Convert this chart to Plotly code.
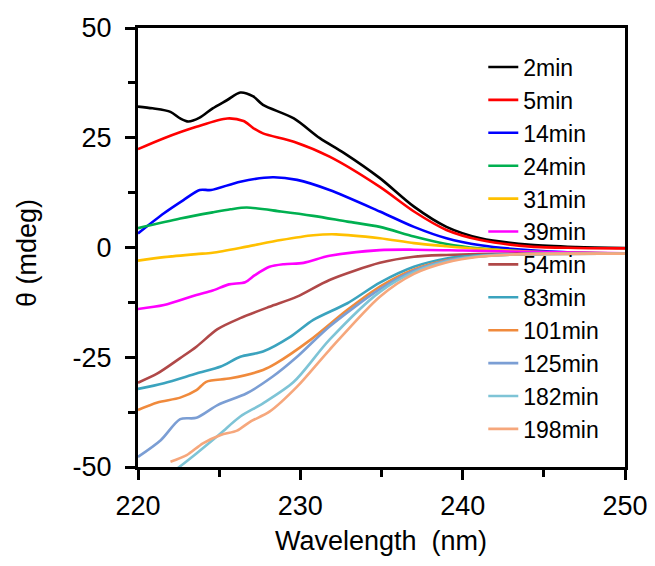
import plotly.graph_objects as go

series_names = ["2min", "5min", "14min", "24min", "31min", "39min", "54min",
                "83min", "101min", "125min", "182min", "198min"]
series_colors = ["#000000", "#FF0000", "#0000FF", "#00B050", "#FFC000", "#FF00FF",
                 "#B04848", "#3BA3BE", "#F08A3C", "#7B9ED4", "#7EC4D6", "#F6A77C"]

wl_2 = [220, 220.9, 222, 222.6, 223.1, 223.8, 224.6, 225.5, 226.3, 227.1, 227.7, 229.6, 231.2, 232.7, 234.9, 237, 239, 241.1, 244.2, 247, 250]
th_2 = [32.1, 31.7, 30.9, 29.4, 28.7, 29.6, 31.7, 33.6, 35.3, 34.4, 32.5, 29.4, 24.9, 21.5, 15.8, 9.3, 4.7, 2.1, 0.6, 0.1, -0.1]

wl_5 = [220, 221.6, 223.6, 225.5, 226.5, 227.1, 227.7, 229.6, 231.8, 234.9, 237, 239, 241.1, 244.2, 247, 250]
th_5 = [22.4, 24.9, 27.5, 29.4, 28.8, 27.2, 26.0, 24.1, 20.7, 13.8, 8.2, 4.0, 1.7, 0.2, -0.1, -0.2]

wl_14 = [220, 221.6, 222.8, 223.8, 224.5, 226.3, 228.3, 229.8, 231.8, 234.9, 237, 239, 241.1, 244, 247, 250]
th_14 = [3.2, 7.8, 10.8, 13.1, 13.1, 15.0, 16.0, 15.4, 13.1, 8.2, 4.7, 2.1, 0.5, -0.6, -1.2, -1.4]

wl_24 = [220, 222.6, 224.6, 225.7, 226.7, 228.8, 230.8, 232.9, 234.9, 237, 239, 241, 244, 247, 250]
th_24 = [4.4, 6.6, 8.0, 8.7, 9.1, 8.2, 7.2, 5.9, 4.7, 2.5, 0.8, -0.2, -0.9, -1.2, -1.4]

wl_31 = [220, 221.6, 223.6, 224.6, 226.7, 228.8, 230.8, 232.2, 234.9, 237, 239, 241, 244, 247, 250]
th_31 = [-3.0, -2.2, -1.5, -1.2, 0.2, 1.7, 2.8, 3.0, 2.1, 1.0, 0.3, -0.3, -0.9, -1.2, -1.4]

wl_39 = [220, 221.6, 223.6, 224.6, 225.6, 226.6, 227.2, 228.1, 229.0, 230.2, 231.8, 234.9, 237, 240, 244, 250]
th_39 = [-14.0, -13.1, -10.8, -9.8, -8.4, -7.9, -6.3, -4.4, -3.8, -3.5, -1.9, -0.6, -0.5, -0.7, -1.0, -1.3]

wl_54 = [220, 221.2, 222.6, 223.6, 224.9, 226.3, 228.1, 229.8, 231.8, 234.9, 237, 239, 241, 244, 250]
th_54 = [-30.8, -28.7, -25.2, -22.6, -18.6, -16.1, -13.5, -11.2, -7.4, -3.5, -2.1, -1.7, -1.5, -1.4, -1.4]

wl_83 = [220, 221.6, 223.6, 225.1, 226.3, 227.7, 229.4, 230.8, 232.9, 234.9, 237, 239, 241, 244, 247, 250]
th_83 = [-32.2, -30.9, -28.7, -27.1, -24.9, -23.7, -20.3, -16.5, -12.7, -8.0, -4.4, -2.5, -1.8, -1.5, -1.4, -1.4]

wl_101 = [220, 221.2, 222.6, 223.6, 224.2, 225.7, 227.7, 228.5, 230.6, 232.9, 234.9, 237, 239, 241, 244, 250]
th_101 = [-37.0, -35.3, -34.2, -32.5, -30.6, -29.8, -27.9, -26.4, -21.1, -14.2, -8.9, -5.0, -2.9, -2.0, -1.5, -1.4]

wl_125 = [220, 221.4, 222.6, 223.6, 224.9, 226.7, 228.3, 229.8, 231.8, 234.9, 237, 239, 241, 244, 250]
th_125 = [-47.7, -43.9, -39.1, -38.8, -35.9, -33.2, -29.4, -24.9, -18.0, -9.5, -5.3, -3.0, -2.0, -1.5, -1.4]

wl_182 = [222.3, 223.6, 225.1, 226.3, 227.7, 229.6, 231.8, 234.9, 237, 239, 241, 244, 250]
th_182 = [-50.7, -46.9, -42.3, -38.5, -35.5, -30.6, -21.0, -10.1, -5.6, -3.2, -2.0, -1.5, -1.4]

wl_198 = [222.0, 223.0, 224.0, 225.1, 226.1, 226.9, 228.1, 229.8, 231.8, 234.9, 237, 239, 241, 244, 250]
th_198 = [-48.8, -47.3, -44.6, -42.7, -41.7, -39.7, -37.4, -31.7, -23.3, -11.2, -6.0, -3.4, -2.1, -1.5, -1.4]

wl_all = [wl_2, wl_5, wl_14, wl_24, wl_31, wl_39, wl_54, wl_83, wl_101, wl_125, wl_182, wl_198]
th_all = [th_2, th_5, th_14, th_24, th_31, th_39, th_54, th_83, th_101, th_125, th_182, th_198]

x_tick_vals = [220, 230, 240, 250]
x_tick_text = ["220", "230", "240", "250"]
y_tick_vals = [-50, -25, 0, 25, 50]
y_tick_text = ["-50", "-25", "0", "25", "50"]
x_title = "Wavelength  (nm)"
y_title = "θ (mdeg)"

FONT = "Liberation Sans, Arial, sans-serif"

fig = go.Figure()
for name, color, xs, ys in zip(series_names, series_colors, wl_all, th_all):
    fig.add_trace(go.Scatter(x=xs, y=ys, mode="lines", name=name,
                             line=dict(color=color, width=2.6, shape="spline", smoothing=0.8)))

axis_common = dict(showline=True, linecolor="black", linewidth=3, mirror=True,
                   ticks="outside", ticklen=10, tickwidth=2.5, tickcolor="black",
                   showgrid=False, zeroline=False, automargin=False,
                   tickfont=dict(family=FONT, size=27, color="black"))

fig.update_xaxes(range=[220, 250], tickmode="array", tickvals=x_tick_vals, ticktext=x_tick_text,
                 minor=dict(tickmode="linear", tick0=220, dtick=5, ticks="outside", ticklen=7,
                            tickwidth=2.5, tickcolor="black", showgrid=False),
                 ticklabelstandoff=3,
                 **axis_common)
fig.update_yaxes(range=[-50, 50], tickmode="array", tickvals=y_tick_vals, ticktext=y_tick_text,
                 minor=dict(tickmode="linear", tick0=-50, dtick=12.5, ticks="outside", ticklen=7,
                            tickwidth=2.5, tickcolor="black", showgrid=False),
                 ticklabelstandoff=8,
                 **axis_common)

fig.add_annotation(text=x_title, xref="paper", yref="paper", x=0.499, y=-0.1686,
                   xanchor="center", yanchor="middle", showarrow=False,
                   font=dict(family=FONT, size=27, color="black"))
fig.add_annotation(text=y_title, xref="paper", yref="paper", x=-0.228, y=0.4875,
                   xanchor="center", yanchor="middle", showarrow=False, textangle=-90,
                   font=dict(family=FONT, size=27, color="black"))

fig.update_layout(
    width=655, height=566,
    margin=dict(l=130, r=38, t=20, b=107),
    paper_bgcolor="white", plot_bgcolor="white",
    showlegend=True,
    legend=dict(x=0.709, y=0.96, xanchor="left", yanchor="top",
                bgcolor="rgba(0,0,0,0)", borderwidth=0,
                font=dict(family=FONT, size=23, color="black"),
                itemwidth=30, tracegroupgap=0),
    font=dict(family=FONT, color="black"),
)

fig.write_html("out.html")
